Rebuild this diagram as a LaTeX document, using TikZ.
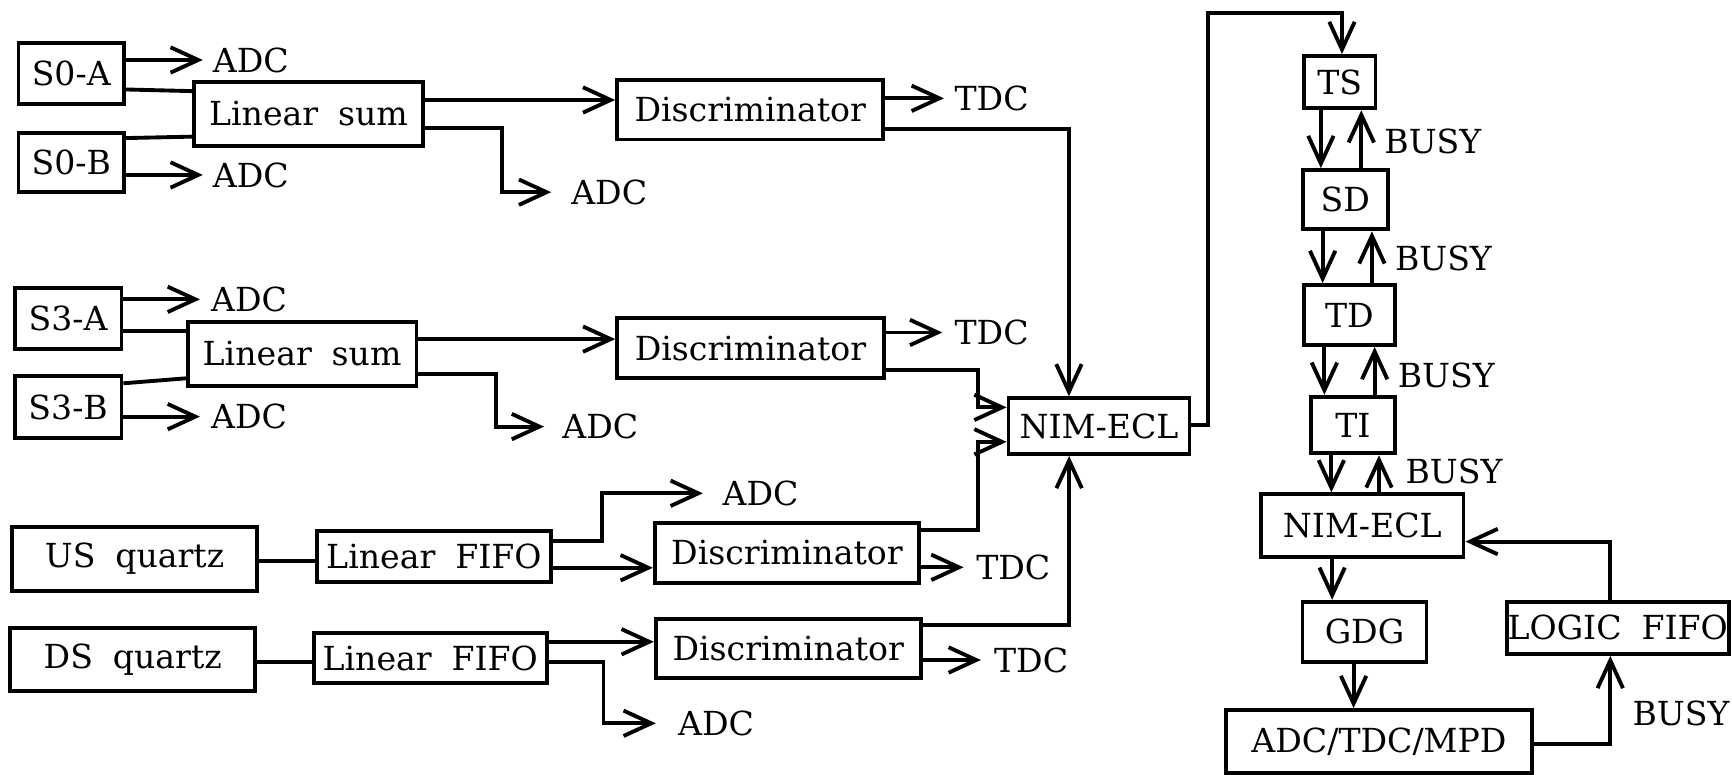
\documentclass[tikz,border=0pt]{standalone}
\usepackage{fontspec}
\setmainfont{DejaVu Serif}
\usetikzlibrary{arrows.meta}
\begin{document}
\begin{tikzpicture}[x=1pt,y=-1pt,
  box/.style={draw, line width=3.5pt, rectangle, inner sep=0pt, font=\fontsize{30pt}{36pt}\selectfont},
  lbl/.style={inner sep=0pt, anchor=west, font=\fontsize{30pt}{36pt}\selectfont},
  ln/.style={line width=3.5pt},
  arr/.style={line width=3.5pt, -{Straight Barb[length=25pt,width=23pt]}}]
\useasboundingbox (0,0) rectangle (1568,701);

% boxes
\node[box, minimum width=95.4pt, minimum height=55pt] (s0a) at (64.5,66.7) {S0-A};
\node[box, minimum width=95.4pt, minimum height=53.4pt] (s0b) at (64.5,147.4) {S0-B};
\node[box, minimum width=206.7pt, minimum height=58pt] (sum0) at (279.3,102.9) {Linear\hspace{0.6em}sum};
\node[box, minimum width=241pt, minimum height=53.7pt] (disc0) at (679.2,99.4) {Discriminator};

\node[box, minimum width=96.5pt, minimum height=55.2pt] (s3a) at (61.7,288.6) {S3-A};
\node[box, minimum width=96.5pt, minimum height=56.4pt] (s3b) at (61.7,368.6) {S3-B};
\node[box, minimum width=207pt, minimum height=58.2pt] (sum3) at (273.5,320.3) {Linear\hspace{0.6em}sum};
\node[box, minimum width=241.3pt, minimum height=54.3pt] (disc3) at (679.4,315.4) {Discriminator};

\node[box, minimum width=222pt, minimum height=58.2pt] (usq) at (121.8,505.9) {US\hspace{0.6em}quartz\hspace{26pt}};
\node[box, minimum width=211.5pt, minimum height=46.2pt] (fifo1) at (392.8,503.5) {Linear\hspace{0.6em}FIFO};
\node[box, minimum width=239.3pt, minimum height=54.4pt] (discu) at (712.4,500.3) {Discriminator};

\node[box, minimum width=221.6pt, minimum height=57.3pt] (dsq) at (120.2,596.9) {DS\hspace{0.6em}quartz\hspace{30pt}};
\node[box, minimum width=211pt, minimum height=45.9pt] (fifo2) at (389.5,595.7) {Linear\hspace{0.6em}FIFO};
\node[box, minimum width=239.9pt, minimum height=53.4pt] (discd) at (713.6,587.4) {Discriminator};

\node[box, minimum width=163.8pt, minimum height=50.4pt] (nim1) at (994.9,385.8) {NIM-ECL};

\node[box, minimum width=64.7pt, minimum height=47.4pt] (ts) at (1212.9,74.4) {TS};
\node[box, minimum width=77.1pt, minimum height=53.7pt] (sd) at (1217.8,180.8) {SD};
\node[box, minimum width=82.2pt, minimum height=54.4pt] (td) at (1221.6,285.2) {TD};
\node[box, minimum width=75.8pt, minimum height=51.3pt] (ti) at (1224.8,384.8) {TI};
\node[box, minimum width=183.3pt, minimum height=56.4pt] (nim2) at (1233.3,475.7) {NIM-ECL};
\node[box, minimum width=112.2pt, minimum height=54.3pt] (gdg) at (1235.3,571.9) {GDG};
\node[box, minimum width=277.3pt, minimum height=57.2pt] (daq) at (1248.4,671.4) {ADC/TDC/MPD};
\node[box, minimum width=201pt, minimum height=47.3pt] (lfifo) at (1464.5,568.4) {LOGIC\hspace{0.6em}FIFO};

% labels
\node[lbl] (a1) at (192.6,54.3) {ADC};
\node[lbl] (a2) at (192.6,158.4) {ADC};
\node[lbl] (a3) at (517,174) {ADC};
\node[lbl] (t1) at (864,89) {TDC};
\node[lbl] (a4) at (191,271) {ADC};
\node[lbl] (a5) at (191,377.2) {ADC};
\node[lbl] (a6) at (509,386.2) {ADC};
\node[lbl] (t2) at (864,301) {TDC};
\node[lbl] (a7) at (654,446.6) {ADC};
\node[lbl] (t3) at (883.6,513.6) {TDC};
\node[lbl] (a8) at (613.7,654.8) {ADC};
\node[lbl] (t4) at (899.8,597.5) {TDC};
\node[lbl] (b1) at (1253.1,128.3) {BUSY};
\node[lbl] (b2) at (1262.7,233.9) {BUSY};
\node[lbl] (b3) at (1265.3,339.5) {BUSY};
\node[lbl] (b4) at (1272.3,427) {BUSY};
\node[lbl] (b5) at (1477.8,645.8) {BUSY};

% S0 group
\draw[arr] (s0a.east |- a1) -- ([xshift=-9pt]a1.west);
\draw[arr] (s0b.east |- a2) -- ([xshift=-9pt]a2.west);
\draw[ln] (s0a.east |- 0,81) -- (sum0.west |- 0,82.5);
\draw[ln] (s0b.east |- 0,125) -- (sum0.west |- 0,123.7);
\draw[arr] (sum0.east |- 0,90.5) -- (disc0.west |- 0,90.5);
\draw[arr] (sum0.east |- 0,116.2) -- (454.6,116.2) |- ([xshift=-18pt]a3.west);
\draw[arr] (disc0.east |- t1) -- ([xshift=-9.5pt]t1.west);
\draw[arr] (disc0.east |- 0,117) -| ([xshift=-27.2pt]nim1.north);

% S3 group
\draw[arr] (s3a.east |- a4) -- ([xshift=-10pt]a4.west);
\draw[arr] (s3b.east |- a5) -- ([xshift=-10pt]a5.west);
\draw[ln] (s3a.east |- 0,299.6) -- (sum3.west |- 0,299.6);
\draw[ln] (s3b.east |- 0,347) -- (sum3.west |- 0,342.5);
\draw[arr] (sum3.east |- 0,307) -- (disc3.west |- 0,307);
\draw[arr] (disc3.east |- t2) -- ([xshift=-11pt]t2.west);
\draw[arr] (sum3.east |- 0,338.6) -- (449,338.6) |- ([xshift=-16.5pt]a6.west);
\draw[arr] (disc3.east |- 0,335) -- (885,335) |- (nim1.west |- 0,368.8);

% US group
\draw[ln] (usq.east |- 0,507.8) -- (fifo1.west |- 0,507.8);
\draw[arr] (fifo1.east |- 0,490) -- (545.2,490) |- ([xshift=-17.7pt]a7.west);
\draw[arr] (fifo1.east |- 0,514) -- (discu.west |- 0,514);
\draw[arr] (discu.east |- 0,479.8) -- (885,479.8) |- (nim1.west |- 0,400);
\draw[arr] (discu.east |- t3) -- ([xshift=-11.3pt]t3.west);

% DS group
\draw[ln] (dsq.east |- 0,599.6) -- (fifo2.west |- 0,599.6);
\draw[arr] (fifo2.east |- 0,581) -- (discd.west |- 0,581);
\draw[arr] (fifo2.east |- 0,599) -- (546.4,599) |- ([xshift=-20pt]a8.west);
\draw[arr] (discd.east |- 0,565.8) -| ([xshift=-27pt]nim1.south);
\draw[arr] (discd.east |- t4) -- ([xshift=-11.8pt]t4.west);

% NIM-ECL to TS
\draw[arr] (nim1.east |- 0,384.8) -- (1093.5,384.8) -- (1093.5,11.5) -| ([xshift=2pt]ts.north);

% right column
\draw[arr] (ts.south -| 1195.8,0) -- (sd.north -| 1195.8,0);
\draw[arr] (sd.north -| 1232.4,0) -- (ts.south -| 1232.4,0);
\draw[arr] (sd.south -| 1197.4,0) -- (td.north -| 1197.4,0);
\draw[arr] (td.north -| 1242,0) -- (sd.south -| 1242,0);
\draw[arr] (td.south -| 1199,0) -- (ti.north -| 1199,0);
\draw[arr] (ti.north -| 1244.5,0) -- (td.south -| 1244.5,0);
\draw[arr] (ti.south -| 1205.3,0) -- (nim2.north -| 1205.3,0);
\draw[arr] (nim2.north -| 1248.4,0) -- (ti.south -| 1248.4,0);
\draw[arr] (nim2.south -| 1206,0) -- (gdg.north -| 1206,0);
\draw[arr] (gdg.south -| 1225.4,0) -- (daq.north -| 1225.4,0);
\draw[arr] (daq.east |- 0,673.5) -| (lfifo.south -| 1457.8,0);
\draw[arr] (lfifo.north -| 1457.8,0) |- (nim2.east |- 0,490.3);
\end{tikzpicture}
\end{document}
